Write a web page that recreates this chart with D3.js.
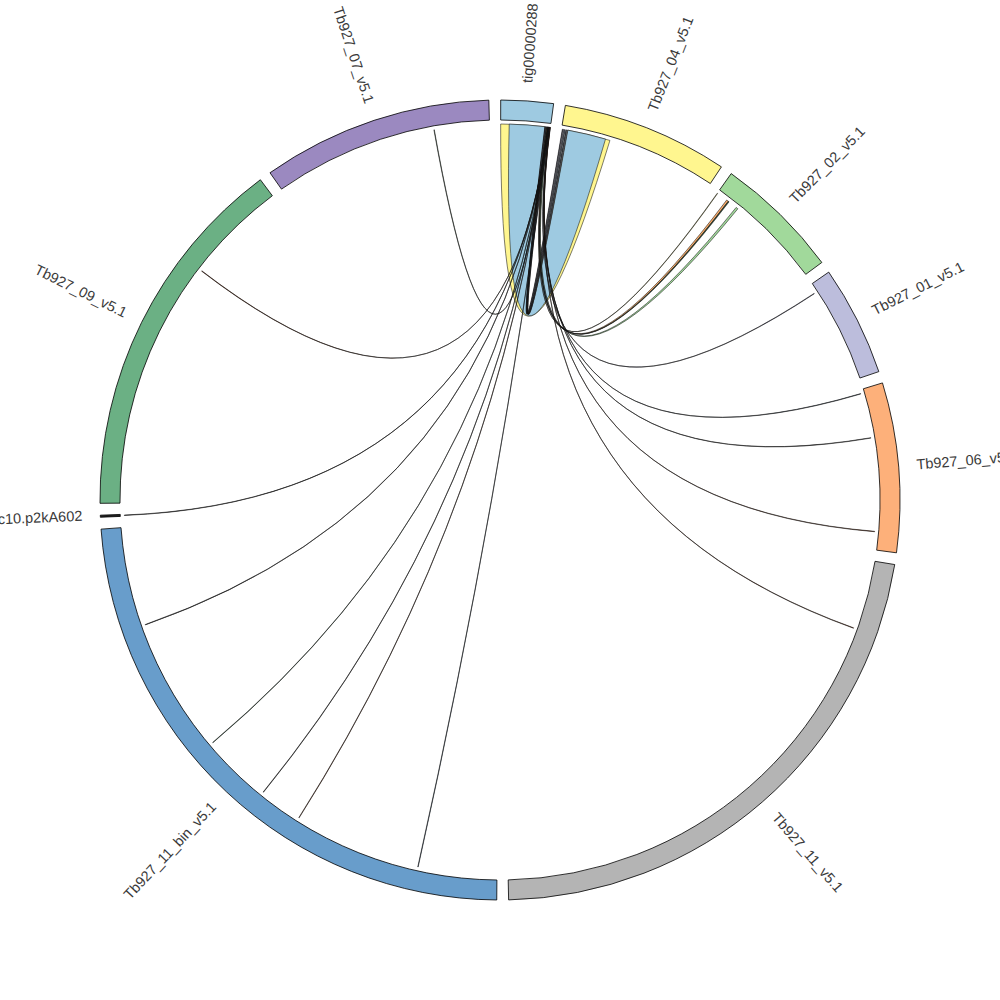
<!DOCTYPE html>
<meta charset="utf-8">
<html>
<head>
    <script src="https://d3js.org/d3.v7.min.js"></script>
    <style>
        body { margin: 0; background: #fff; }
        .label { font-family: 'Liberation Sans', Arial, sans-serif; font-size: 14.5px; fill: #3a3a3a; }
    </style>
</head>
<body>
<svg width="1000" height="1000"></svg>
<script>
    // chromosomes, in drawing order (clockwise from 12 o'clock), lengths in kb
    const chromNames = ["tig00000288", "Tb927_04_v5.1", "Tb927_02_v5.1", "Tb927_01_v5.1", "Tb927_06_v5.1",
        "Tb927_11_v5.1", "Tb927_11_bin_v5.1", "c10.p2kA602", "Tb927_09_v5.1", "Tb927_07_v5.1"];
    const chromLengths = [507, 1613, 1217, 1067, 1640, 5297, 5689, 20, 3577, 2233];
    const chromColors = ["#9ecae1", "#fff68f", "#a1d99b", "#bcbddc", "#fdb07a",
        "#b4b4b4", "#689dcb", "#222222", "#6bb084", "#9b89c0"];

    // links: [source chrom, start kb, end kb, target chrom, start kb, end kb]
    const links = [
        [0, 0, 450, 1, 66, 506],
        [0, 87, 450, 1, 66, 459],
        [0, 452, 456, 1, 9, 14],
        [0, 458, 462, 1, 20, 26],
        [0, 464, 468, 1, 32, 38],
        [0, 470, 474, 1, 46, 52],
        [0, 476, 479, 1, 56, 62],
        [0, 470, 472, 2, 0, 4],
        [0, 474, 480, 2, 118, 138],
        [0, 480, 482, 2, 139, 148],
        [0, 483, 490, 2, 240, 262],
        [0, 480, 482, 9, 1665, 1669],
        [0, 482, 484, 8, 2530, 2534],
        [0, 484, 486, 7, 8, 12],
        [0, 486, 488, 6, 4674, 4678],
        [0, 488, 490, 6, 3287, 3291],
        [0, 490, 492, 6, 2567, 2571],
        [0, 492, 494, 6, 2121, 2125],
        [0, 494, 496, 6, 807, 811],
        [0, 496, 498, 3, 93, 97],
        [0, 498, 500, 4, 39, 43],
        [0, 500, 502, 4, 499, 503],
        [0, 502, 504, 4, 1453, 1457],
        [0, 504, 506, 5, 706, 710]
    ];
    const linkColors = ["#fff68f", "#9ecae1", "#4a4a6a", "#bcbddc", "#5a6f8a", "#2f3b4a", "#c8c8d8",
        "#fff68f", "#fdae6b", "#2f4f2f", "#a1d99b",
        "#6a8a6a", "#8b4a2b", "#333333", "#444444", "#4a7a5a", "#555555", "#a0522d", "#4a6a8a",
        "#6a6a9a", "#6a7a8a", "#333333", "#a0522d", "#a0522d"];

    const svg = d3.select("svg");
    const cx = 500, cy = 500;
    const outerR = 400, innerR = 380, linkR = 376, labelR = 418;
    const gapDeg = 1.7, startDeg = 0.1;

    const rad = d => d * Math.PI / 180;
    const degPerKb = (360 - gapDeg * chromNames.length) / d3.sum(chromLengths);

    let a = startDeg;
    const chroms = chromNames.map((name, i) => {
        const s = a;
        const e = a + chromLengths[i] * degPerKb;
        a = e + gapDeg;
        return {
            name, i, start: s, end: e,
            scale: d3.scaleLinear().domain([0, chromLengths[i]]).range([rad(s), rad(e)])
        };
    });

    const g = svg.append("g").attr("transform", `translate(${cx},${cy})`);

    // links
    const ribbon = d3.ribbon().radius(linkR);
    g.append("g").selectAll("path")
        .data(links)
        .join("path")
        .attr("d", l => ribbon({
            source: { startAngle: chroms[l[0]].scale(l[1]), endAngle: chroms[l[0]].scale(l[2]) },
            target: { startAngle: chroms[l[3]].scale(l[4]), endAngle: chroms[l[3]].scale(l[5]) }
        }))
        .attr("fill", (l, i) => linkColors[i])
        .attr("stroke", "#111")
        .attr("stroke-width", 0.55);

    // chromosome blocks
    const arc = d3.arc().innerRadius(innerR).outerRadius(outerR);
    g.append("g").selectAll("path")
        .data(chroms)
        .join("path")
        .attr("d", d => arc({ startAngle: rad(d.start), endAngle: rad(d.end) }))
        .attr("fill", d => chromColors[d.i])
        .attr("stroke", "#000")
        .attr("stroke-width", 0.8);

    // labels
    g.append("g").selectAll("text")
        .data(chroms)
        .join("text")
        .attr("class", "label")
        .attr("transform", d => {
            const m = (d.start + d.end) / 2;
            const x = labelR * Math.sin(rad(m)), y = -labelR * Math.cos(rad(m));
            const r = m < 180 ? m - 90 : m + 90;
            return `translate(${x},${y}) rotate(${r})`;
        })
        .attr("text-anchor", d => (d.start + d.end) / 2 < 180 ? "start" : "end")
        .attr("dominant-baseline", "middle")
        .text(d => d.name);
</script>
</body>
</html>
